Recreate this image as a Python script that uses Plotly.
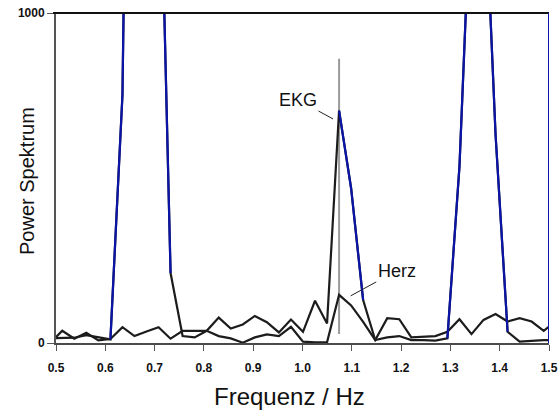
import plotly.graph_objects as go

# FFT bin frequencies (Hz)
freq = [0.4883, 0.5127, 0.5371, 0.5615, 0.5859, 0.6104, 0.6348, 0.6592, 0.6836,
        0.7080, 0.7324, 0.7568, 0.7813, 0.8057, 0.8301, 0.8545, 0.8789, 0.9033,
        0.9277, 0.9521, 0.9766, 1.0010, 1.0254, 1.0498, 1.0742, 1.0986, 1.1230,
        1.1475, 1.1719, 1.1963, 1.2207, 1.2451, 1.2695, 1.2939, 1.3184, 1.3428,
        1.3672, 1.3916, 1.4160, 1.4404, 1.4648, 1.4893, 1.5137]

# power spectrum of the ECG signal
ekg = [14, 14, 16, 24, 17, 11, 752, 3480, 3200, 1730, 212, 21, 17, 37, 77, 44,
       56, 82, 63, 32, 71, 34, 128, 59, 704, 469, 130, 9, 17, 21, 9, 9, 7, 14,
       535, 1420, 1480, 631, 34, 4, 7, 9, 9]

# power spectrum of the heart signal
herz = [0, 37, 13, 31, 8, 12, 48, 21, 35, 48, 13, 37, 37, 37, 21, 14, 1, 17, 26,
        21, 49, 4, 2, 2, 146, 114, 64, 9, 75, 72, 17, 20, 21, 34, 72, 27, 70, 88,
        65, 75, 65, 37, 65]

# bin index ranges of the ECG curve drawn in blue
ekg_blue_ranges = [(5, 10), (24, 26), (33, 38)]

# heart-rate marker
marker_freq = 1.0742
marker_span = [27, 861]

x_ticks = [0.5, 0.6, 0.7, 0.8, 0.9, 1.0, 1.1, 1.2, 1.3, 1.4, 1.5]
y_ticks = [0, 1000]

ekg_blue = [None] * len(ekg)
for a, b in ekg_blue_ranges:
    for i in range(a, b + 1):
        ekg_blue[i] = ekg[i]

FONT = "Liberation Sans"
BLACK = "#1c1c1c"
BLUE = "#0a14a6"

fig = go.Figure()
fig.add_trace(go.Scatter(x=[marker_freq, marker_freq], y=marker_span, mode="lines",
                         line=dict(color="#9a9a9a", width=2), hoverinfo="skip"))
fig.add_trace(go.Scatter(x=freq, y=herz, mode="lines",
                         line=dict(color=BLACK, width=2.2), name="Herz"))
fig.add_trace(go.Scatter(x=freq, y=ekg, mode="lines",
                         line=dict(color=BLACK, width=2.2), name="EKG"))
fig.add_trace(go.Scatter(x=freq, y=ekg_blue, mode="lines", connectgaps=False,
                         line=dict(color=BLUE, width=2.2), name="EKG"))

fig.update_layout(
    width=558, height=413,
    margin=dict(l=56, r=9, t=13, b=70, autoexpand=False),
    paper_bgcolor="white", plot_bgcolor="white",
    showlegend=False,
    font=dict(family=FONT, color="#111"),
    xaxis=dict(range=[0.5, 1.5], tickvals=x_ticks, tickformat=".1f",
               automargin=False,
               showgrid=False, zeroline=False,
               showline=True, linecolor="#4a4a4a", linewidth=2,
               ticks="outside", ticklen=6, tickwidth=1, tickcolor="#555",
               ticklabelstandoff=7,
               tickfont=dict(family=FONT, size=12, color="#111", weight="bold")),
    yaxis=dict(range=[0, 1000], tickvals=y_ticks, automargin=False,
               showgrid=False, zeroline=False,
               showline=True, linecolor="#555", linewidth=2,
               ticks="outside", ticklen=7, tickwidth=1, tickcolor="#555",
               tickfont=dict(family=FONT, size=12, color="#111", weight="bold")),
    shapes=[
        dict(type="line", xref="paper", yref="paper", x0=-0.006, x1=1.0, y0=1, y1=1,
             line=dict(color="#111", width=2)),
        dict(type="line", xref="x", yref="paper", x0=1.5, x1=1.5, y0=0, y1=1,
             line=dict(color=BLUE, width=2)),
    ],
    annotations=[
        dict(x=1.0619, y=679, xref="x", yref="y", text="EKG", showarrow=True,
             arrowhead=0, arrowwidth=1, arrowcolor="#222", ax=-35, ay=-19,
             font=dict(family=FONT, size=18, color="#111")),
        dict(x=1.0978, y=143, xref="x", yref="y", text="Herz", showarrow=True,
             arrowhead=0, arrowwidth=1, arrowcolor="#222", ax=46, ay=-25,
             font=dict(family=FONT, size=18, color="#111")),
        dict(x=0.4746, y=-0.1636, xref="paper", yref="paper", text="Frequenz / Hz",
             showarrow=False, xanchor="center", yanchor="middle",
             font=dict(family=FONT, size=24, color="#111")),
        dict(x=-0.0588, y=0.491, xref="paper", yref="paper", text="Power Spektrum",
             showarrow=False, textangle=-90, xanchor="center", yanchor="middle",
             font=dict(family=FONT, size=20, color="#111")),
    ],
)

fig.write_html("out.html")
